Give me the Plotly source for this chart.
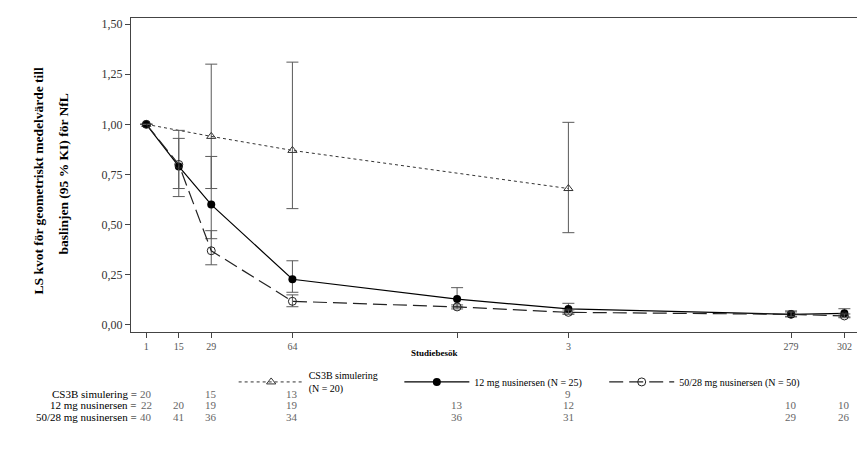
import plotly.graph_objects as go

# Studiebesök (dag)
days_sim = [1, 29, 64, 183]
days = [1, 15, 29, 64, 135, 183, 279, 302]
tick_text = ['1', '15', '29', '64', '', '3', '279', '302']

# CS3B simulering
sim_mean = [1.00, 0.94, 0.87, 0.68]
sim_upper = [1.00, 1.30, 1.31, 1.01]
sim_lower = [1.00, 0.68, 0.58, 0.46]

# 12 mg nusinersen
mg12_mean = [1.00, 0.79, 0.60, 0.228, 0.129, 0.080, 0.053, 0.058]
mg12_upper = [1.00, 0.93, 0.84, 0.32, 0.186, 0.108, 0.07, 0.081]
mg12_lower = [1.00, 0.68, 0.43, 0.163, 0.09, 0.06, 0.04, 0.04]

# 50/28 mg nusinersen
mg50_mean = [1.00, 0.80, 0.37, 0.118, 0.090, 0.063, 0.053, 0.045]
mg50_upper = [1.00, 0.97, 0.47, 0.15, 0.10, 0.075, 0.065, 0.055]
mg50_lower = [1.00, 0.64, 0.30, 0.091, 0.08, 0.053, 0.043, 0.036]

# antal patienter per besök
n_sim = [20, 15, 13, 9]
n_12 = [22, 20, 19, 19, 13, 12, 10, 10]
n_50 = [40, 41, 36, 34, 36, 31, 29, 26]

FONT = 'Liberation Serif'
ERR_COLOR = '#5a5a5a'


def err(mean, up, lo):
    return dict(type='data', symmetric=False,
                array=[u - m for u, m in zip(up, mean)],
                arrayminus=[m - l for m, l in zip(mean, lo)],
                color=ERR_COLOR, thickness=1, width=6)


fig = go.Figure()

fig.add_trace(go.Scatter(
    x=days_sim, y=sim_mean, name='CS3B simulering<br>(N = 20)',
    mode='lines+markers', legend='legend',
    line=dict(color='#333333', width=1, dash='3px,3px'),
    marker=dict(symbol='triangle-up-open', size=8, color='#333333'),
    error_y=err(sim_mean, sim_upper, sim_lower)))

fig.add_trace(go.Scatter(
    x=days, y=mg12_mean, name='12 mg nusinersen (N = 25)',
    mode='lines+markers', legend='legend2',
    line=dict(color='black', width=1.2),
    marker=dict(symbol='circle', size=8, color='black'),
    error_y=err(mg12_mean, mg12_upper, mg12_lower)))

fig.add_trace(go.Scatter(
    x=days, y=mg50_mean, name='50/28 mg nusinersen (N = 50)',
    mode='lines+markers', legend='legend3',
    line=dict(color='#222222', width=1.2, dash='14px,6px'),
    marker=dict(symbol='circle-open', size=8, color='#222222'),
    error_y=err(mg50_mean, mg50_upper, mg50_lower)))

# antal-tabell under diagrammet
rows = [('CS3B simulering =', days_sim, n_sim, -0.197),
        ('12 mg nusinersen =', days, n_12, -0.234),
        ('50/28 mg nusinersen =', days, n_50, -0.271)]
for label, xs, ns, yy in rows:
    fig.add_annotation(x=0.0105, y=yy, xref='paper', yref='paper', text=label,
                       showarrow=False, xanchor='right', yanchor='middle',
                       font=dict(family=FONT, size=11, color='black'))
    for xv, n in zip(xs, ns):
        fig.add_annotation(x=xv, y=yy, xref='x', yref='paper', text=str(n),
                           showarrow=False, xanchor='center', yanchor='middle',
                           font=dict(family=FONT, size=11, color='#666666'))

fig.add_annotation(x=0.417, y=-0.067, xref='paper', yref='paper',
                   text='<b>Studiebesök</b>', showarrow=False, yanchor='middle',
                   font=dict(family=FONT, size=9, color='black'))

# y-axelns titel, två rader
ytitle = ['LS kvot för geometriskt medelvärde till', 'baslinjen (95 % KI) för NfL']
for txt, xx, yy in zip(ytitle, [-0.127, -0.0927], [0.481, 0.503]):
    fig.add_annotation(x=xx, y=yy, xref='paper', yref='paper', textangle=-90,
                       text='<b>' + txt + '</b>', showarrow=False,
                       xanchor='center', yanchor='middle',
                       font=dict(family=FONT, size=13.5, color='black'))

leg = dict(orientation='h', y=-0.159, xanchor='left', yanchor='middle',
           font=dict(family=FONT, size=10, color='black'), itemwidth=65,
           bgcolor='rgba(0,0,0,0)')

fig.update_layout(
    width=857, height=447,
    margin=dict(l=122.5, r=6, t=10, b=123),
    plot_bgcolor='white', paper_bgcolor='white',
    separators=', ',
    font=dict(family=FONT, color='black'),
    showlegend=True,
    legend=dict(leg, x=0.141),
    legend2=dict(leg, x=0.3686),
    legend3=dict(leg, x=0.650),
    xaxis=dict(range=[-5.6, 308.3], tickvals=days, ticktext=tick_text,
               showgrid=False, zeroline=False, showline=True, linecolor='#444444',
               linewidth=1, mirror=True, ticks='outside', ticklen=5,
               tickcolor='#444444', tickfont=dict(family=FONT, size=10, color='#555555')),
    yaxis=dict(range=[-0.035, 1.53], tickvals=[0, 0.25, 0.5, 0.75, 1.0, 1.25, 1.5],
               tickformat='.2f', showgrid=False, zeroline=False, showline=True,
               linecolor='#444444', linewidth=1, mirror=True, ticks='outside',
               ticklen=5, tickcolor='#444444',
               tickfont=dict(family=FONT, size=12, color='#333333')),
)

fig.write_html("out.html")
